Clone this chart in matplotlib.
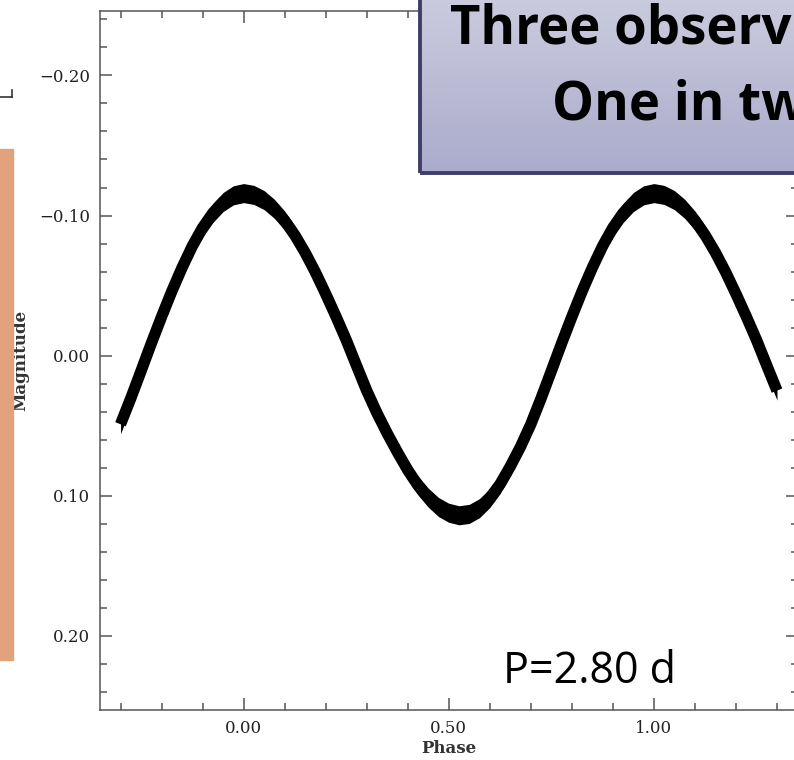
import numpy as np
import matplotlib.pyplot as plt
from matplotlib.patches import Rectangle
from matplotlib.lines import Line2D
from matplotlib.ticker import MultipleLocator

# folded light curve, one cycle (phase, magnitude)
phase = [0.000, 0.025, 0.050, 0.075, 0.100, 0.125, 0.150, 0.175, 0.200,
         0.225, 0.250, 0.275, 0.300, 0.325, 0.350, 0.375, 0.400, 0.425,
         0.450, 0.475, 0.500, 0.525, 0.550, 0.575, 0.600, 0.625, 0.650,
         0.675, 0.700, 0.725, 0.750, 0.775, 0.800, 0.825, 0.850, 0.875,
         0.900, 0.925, 0.950, 0.975]
mag = [-0.1160, -0.1147, -0.1110, -0.1048, -0.0964, -0.0859, -0.0735, -0.0595, -0.0441,
       -0.0280, -0.0112, 0.0070, 0.0250, 0.0410, 0.0555, 0.0690, 0.0817, 0.0927,
       0.1014, 0.1081, 0.1122, 0.1140, 0.1130, 0.1089, 0.1017, 0.0918, 0.0791,
       0.0650, 0.0490, 0.0305, 0.0110, -0.0087, -0.0277, -0.0459, -0.0628, -0.0782,
       -0.0913, -0.1018, -0.1096, -0.1144]
scatter = 0.0068          # half width of the point cloud in magnitude
period_days = 2.80

xticks = [0.0, 0.5, 1.0]
xtick_labels = ['0.00', '0.50', '1.00']
yticks = [-0.20, -0.10, 0.00, 0.10, 0.20]
ytick_labels = ['\u22120.20', '\u22120.10', '0.00', '0.10', '0.20']

ph = np.array(phase)
mg = np.array(mag)
# repeat the cycle on both sides, shown from -0.3 to 1.3
x = np.concatenate([ph - 1, ph, ph + 1, [2.0]])
y = np.concatenate([mg, mg, mg, [mg[0]]])
keep = (x > -0.3001) & (x < 1.3001)
x, y = x[keep], y[keep]

fig = plt.figure(figsize=(7.94, 7.6), dpi=100)
ax = fig.add_axes([100/794, 50/760, 697.5/794, 699/760])

ax.fill_between(x, y - scatter, y + scatter, color='black', lw=0)
ax.plot(x, y, color='black', lw=8.2, solid_capstyle='butt', solid_joinstyle='round')

ax.set_xlim(-0.35, 1.35)
ax.set_ylim(0.253, -0.246)
ax.set_xticks(xticks)
ax.set_xticklabels(xtick_labels)
ax.set_yticks(yticks)
ax.set_yticklabels(ytick_labels)
ax.xaxis.set_minor_locator(MultipleLocator(0.1))
ax.yaxis.set_minor_locator(MultipleLocator(0.02))
ax.tick_params(which='both', direction='in', top=True, right=True,
               color='#555555', width=1.1, labelcolor='#222222', pad=7)
ax.tick_params(which='major', length=8.6)
ax.tick_params(which='minor', length=5)
for lab in ax.get_xticklabels() + ax.get_yticklabels():
    lab.set_fontfamily('DejaVu Serif')
    lab.set_fontsize(12)
for sp in ax.spines.values():
    sp.set_color('#555555')
    sp.set_linewidth(1.1)

ax.set_xlabel('Phase', family='DejaVu Serif', fontweight='bold', fontsize=12,
              color='#333333', va='center')
ax.xaxis.set_label_coords(0.5, -0.0544)
ax.set_ylabel('Magnitude', family='DejaVu Serif', fontweight='bold', fontsize=12,
              color='#333333', va='center')
ax.yaxis.set_label_coords(-(100 - 21)/697.5, 0.5)

fig.text(503/794, 1 - 683/760, f'P={period_days:.2f} d', family='Open Sans',
         fontsize=31, va='baseline', ha='left', color='black')

# orange side strip and small corner mark
fig.patches.append(Rectangle((0, 1 - 660/760), 13/794, 511/760,
                             transform=fig.transFigure, color='#E2A27B', zorder=0))
fig.lines.append(Line2D([12/794, 12/794], [1 - 90/760, 1 - 97/760],
                        transform=fig.transFigure, color='#333333', lw=1.2))
fig.lines.append(Line2D([0, 12/794], [1 - 97/760, 1 - 97/760],
                        transform=fig.transFigure, color='#333333', lw=1.2))

# title box with vertical gradient
bx = fig.add_axes([420/794, 1 - 173/760, 400/794, 180/760])
grad = np.linspace(0, 1, 256).reshape(-1, 1)
top = np.array([0.80, 0.80, 0.875])
bot = np.array([0.67, 0.67, 0.80])
img = top + (bot - top) * grad[:, :, None]
bx.imshow(img, aspect='auto', extent=[0, 1, 0, 1])
bx.set_xlim(0, 1)
bx.set_ylim(0, 1)
bx.axis('off')
fig.patches.append(Rectangle((420/794, 1 - 173/760), 1, 1, transform=fig.transFigure,
                             fill=False, edgecolor='#3E3E68', lw=2.8, zorder=5))

fig.text(450/794, 1 - 43/760, 'Three observ', family='Open Sans', fontweight='bold',
         fontsize=38, va='baseline', ha='left', color='black', zorder=6)
fig.text(552/794, 1 - 120/760, 'One in tw', family='Open Sans', fontweight='bold',
         fontsize=38, va='baseline', ha='left', color='black', zorder=6)

fig.savefig('out.png', dpi=100)
